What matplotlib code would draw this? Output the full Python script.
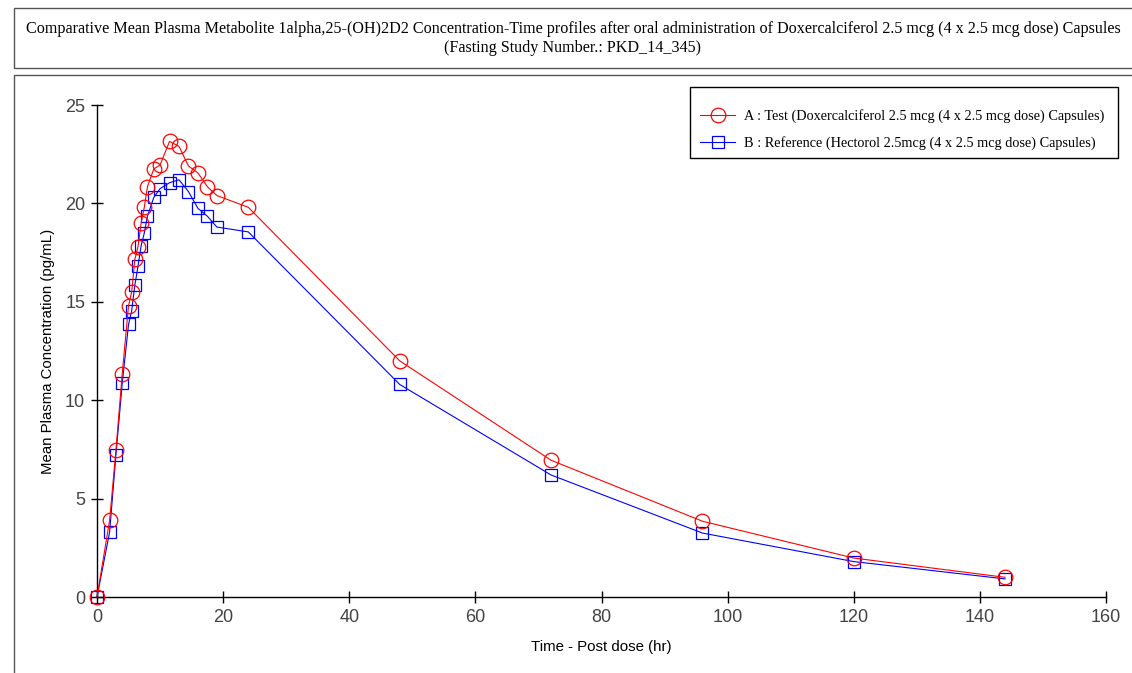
import matplotlib
matplotlib.use("Agg")
import matplotlib.pyplot as plt
from matplotlib.patches import Rectangle

# Sampling times (hr)
time_hr = [0, 2, 3, 4, 5, 5.5, 6, 6.5, 7, 7.5, 8, 9, 10, 11.5, 13, 14.5,
           16, 17.5, 19, 24, 48, 72, 96, 120, 144]

# Mean plasma concentrations (pg/mL)
conc_test = [0, 3.9, 7.45, 11.35, 14.8, 15.5, 17.15, 17.8, 19.0, 19.8, 20.85,
             21.75, 21.95, 23.15, 22.9, 21.9, 21.55, 20.85, 20.4, 19.8,
             12.0, 6.95, 3.85, 1.98, 1.0]
conc_ref = [0, 3.3, 7.2, 10.85, 13.85, 14.55, 15.85, 16.8, 17.85, 18.5, 19.35,
            20.3, 20.75, 21.05, 21.2, 20.6, 19.75, 19.35, 18.8, 18.55,
            10.8, 6.2, 3.25, 1.8, 0.92]

label_test = "A : Test (Doxercalciferol 2.5 mcg (4 x 2.5 mcg dose) Capsules)"
label_ref = "B : Reference (Hectorol 2.5mcg (4 x 2.5 mcg dose) Capsules)"
title1 = ("Comparative Mean Plasma Metabolite 1alpha,25-(OH)2D2 Concentration-Time "
          "profiles after oral administration of Doxercalciferol 2.5 mcg "
          "(4 x 2.5 mcg dose) Capsules")
title2 = "(Fasting Study Number.: PKD_14_345)"

W, H = 1132, 673
fig = plt.figure(figsize=(W / 100, H / 100), dpi=100)

# boxes around title, plot panel and legend
fig.patches.append(Rectangle((14 / W, 1 - 68 / H), 1.2, 60 / H, transform=fig.transFigure,
                             fill=False, edgecolor="#555555", lw=1))
fig.patches.append(Rectangle((14 / W, -0.1), 1.2, 1 - 75 / H + 0.1, transform=fig.transFigure,
                             fill=False, edgecolor="#555555", lw=1))
fig.patches.append(Rectangle((690 / W, 1 - 158 / H), 428 / W, 71 / H, transform=fig.transFigure,
                             fill=False, edgecolor="black", lw=1, zorder=5))

serif = ["Liberation Serif", "DejaVu Serif"]
fig.text(573 / W, 1 - 29 / H, title1, ha="center", va="center", fontsize=11.6, family=serif)
fig.text(573 / W, 1 - 48 / H, title2, ha="center", va="center", fontsize=11.6, family=serif)

ax = fig.add_axes([97 / W, 1 - 597 / H, (1106 - 97) / W, (597 - 105) / H])

ax.plot(time_hr, conc_ref, color="#0000ff", lw=0.8, marker="s", ms=9,
        mfc="none", mec="#0000ff", mew=0.9, clip_on=False, label=label_ref, zorder=3)
ax.plot(time_hr, conc_test, color="#ff0000", lw=0.8, marker="o", ms=10.5,
        mfc="none", mec="#ff0000", mew=0.9, clip_on=False, label=label_test, zorder=4)

ax.set_xlim(0, 160)
ax.set_ylim(0, 25)
ax.set_xticks(range(0, 161, 20))
ax.set_yticks(range(0, 26, 5))
for s in ["top", "right"]:
    ax.spines[s].set_visible(False)
for s in ["left", "bottom"]:
    ax.spines[s].set_linewidth(1)
ax.tick_params(direction="inout", length=9, width=1, labelsize=13,
               labelcolor="#444444", pad=4)
ax.set_xlabel("Time - Post dose (hr)", fontsize=10.8, family="Liberation Sans", labelpad=10)
ax.set_ylabel("Mean Plasma Concentration (pg/mL)", fontsize=10.8,
              family="Liberation Sans", labelpad=7)
for lab in ax.get_xticklabels() + ax.get_yticklabels():
    lab.set_family("Liberation Sans")

handles, labels = ax.get_legend_handles_labels()
leg = ax.legend(handles[::-1], labels[::-1], loc="upper left",
                bbox_to_anchor=(700 / W, 1 - 109 / H), bbox_transform=fig.transFigure,
                borderaxespad=0, frameon=False,
                prop={"family": serif, "size": 10.3}, handlelength=2.45,
                borderpad=0, labelspacing=0.92, handletextpad=0.65)

fig.savefig("out.png", dpi=100)
